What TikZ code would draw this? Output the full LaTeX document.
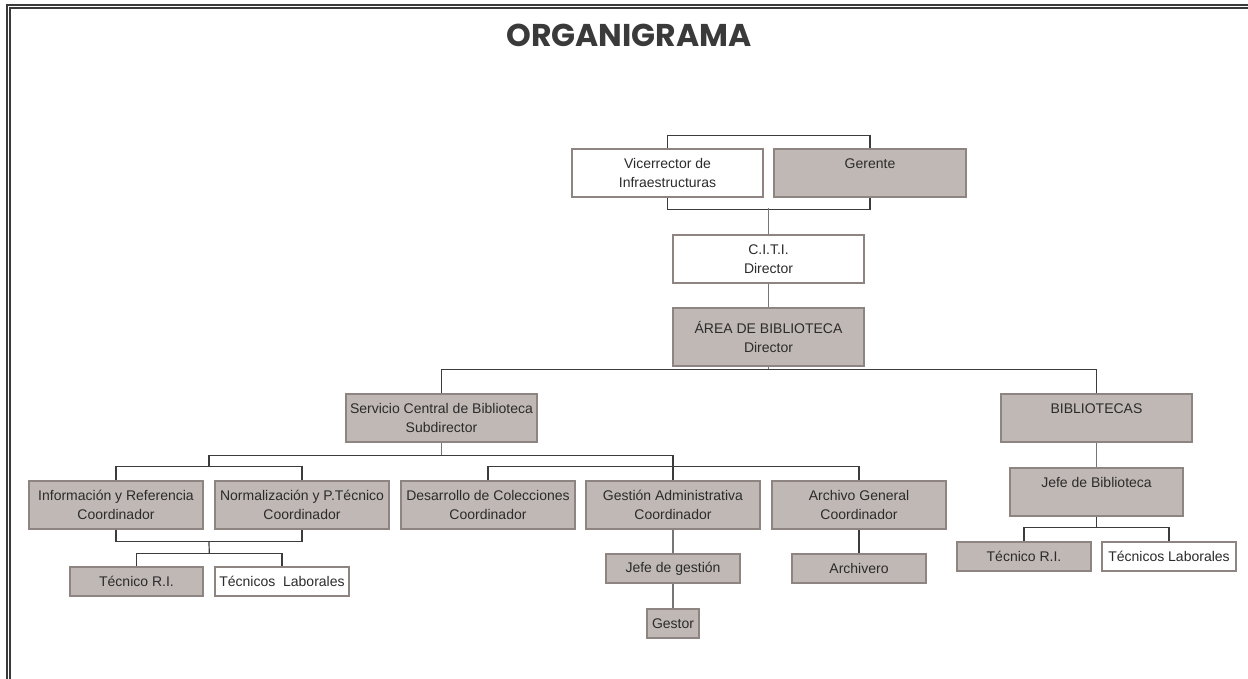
\documentclass[tikz,border=0pt]{standalone}
\usepackage{fontspec}
\setmainfont{Liberation Sans}
\newfontfamily\titlefont{Poppins}
\usetikzlibrary{calc}

\definecolor{boxfill}{HTML}{C0B8B5}
\definecolor{boxline}{HTML}{8E8583}
\definecolor{ink}{HTML}{2B2B2B}
\definecolor{wire}{HTML}{3C3C3C}
\definecolor{stem}{HTML}{767676}
\definecolor{framec}{HTML}{3A3A3A}

\newcommand\unitfont{\fontsize{14pt}{18.5pt}\selectfont}

\tikzset{
  unit/.style={draw=boxline, line width=1.2pt, fill=boxfill, inner sep=0pt,
    align=center, text=ink, font=\unitfont, minimum height=48pt},
  plainunit/.style={unit, fill=white},
  smallunit/.style={unit, minimum height=29pt},
  plainsmall/.style={smallunit, fill=white},
  bracket/.style={draw=wire, line width=1.2pt},
  stemline/.style={draw=stem, line width=1.2pt},
}

\begin{document}
\begin{tikzpicture}[x=1pt, y=-1pt]
\useasboundingbox (0,0) rectangle (1248,679);

% double frame along the top and left edges
\draw[framec, line width=2pt] (1248,5) -- (7,5) -- (7,679);
\draw[framec, line width=2pt] (1248,8) -- (10,8) -- (10,679);

\node[text=framec, font={\titlefont\bfseries\fontsize{31.5pt}{31.5pt}\selectfont}] (title) at (629,35) {ORGANIGRAMA};

% top level
\node[plainunit, minimum width=191pt] (vic) at (667.5,173) {Vicerrector de\\Infraestructuras};
\node[unit, minimum width=192pt] (ger) at (870,173) {Gerente\\~};
\node[plainunit, minimum width=191pt] (citi) at (768.5,259) {C.I.T.I.\\Director};
\node[unit, minimum width=191pt, minimum height=58pt] (area) at (768.5,337) {ÁREA DE BIBLIOTECA\\Director};

% second level
\node[unit, minimum width=191pt] (serv) at (441.5,418) {Servicio Central de Biblioteca\\Subdirector};
\node[unit, minimum width=191pt] (bib) at (1096.5,418) {BIBLIOTECAS\\~};
\node[unit, minimum width=173pt] (jb) at (1096.5,492) {Jefe de Biblioteca\\~};

% coordinators
\node[unit, minimum width=174pt] (info) at (116,505) {Información y Referencia\\Coordinador};
\node[unit, minimum width=174pt] (norm) at (302,505) {Normalización y P.Técnico\\Coordinador};
\node[unit, minimum width=174pt] (des) at (488,505) {Desarrollo de Colecciones\\Coordinador};
\node[unit, minimum width=174pt] (gest) at (673,505) {Gestión Administrativa\\Coordinador};
\node[unit, minimum width=174pt] (arch) at (859,505) {Archivo General\\Coordinador};

% staff
\node[smallunit, minimum width=133pt] (tri) at (136.5,581.5) {Técnico R.I.};
\node[plainsmall, minimum width=134pt] (tl) at (282,581.5) {Técnicos~~Laborales};
\node[smallunit, minimum width=134pt] (jg) at (673,568.5) {Jefe de gestión};
\node[smallunit, minimum width=52pt] (gestor) at (673,623.5) {Gestor};
\node[smallunit, minimum width=134pt] (archv) at (859,568.5) {Archivero};
\node[smallunit, minimum width=134pt] (tri2) at (1024,556.5) {Técnico R.I.};
\node[plainsmall, minimum width=134pt] (tl2) at (1169,556.5) {Técnicos Laborales};

% connectors: top pair to C.I.T.I.
\draw[bracket] (vic.north) -- ++(0,-13) -| (ger.north);
\draw[bracket] (vic.south) -- ++(0,12) -| (ger.south);
\coordinate (topjoin) at ($(citi.north)+(0,-26)$);
\draw[stemline] (topjoin) -- (citi.north);
\draw[stemline] (citi.south) -- (area.north);

% area to its two branches
\coordinate (bus) at ($(area.south)+(0,3)$);
\draw[stemline] (area.south) -- (bus);
\draw[bracket] (serv.north) |- (bus) -| (bib.north);

% central service to coordinators
\coordinate (servbus) at ($(serv.south)+(0,13)$);
\draw[stemline] (serv.south) -- (servbus);
\draw[bracket] (info.north) -- ++(0,-14) -| (norm.north);
\coordinate (leftjoin) at ($(info.north)!0.5!(norm.north)+(0,-14)$);
\draw[bracket] (leftjoin) -- (leftjoin |- servbus) -| (gest.north);
\draw[bracket] (des.north) -- ++(0,-14) -| (arch.north);

% below the first two coordinators
\draw[bracket] (info.south) -- ++(0,12) -| (norm.south);
\coordinate (lowjoin) at ($(info.south)!0.5!(norm.south)+(0,12)$);
\draw[bracket] (tri.north) -- ++(0,-13) -| (tl.north);
\coordinate (staffjoin) at ($(tri.north)!0.5!(tl.north)+(0,-13)$);
\draw[bracket] (lowjoin) -- (staffjoin);

% administration and archive chains
\draw[stemline] (gest.south) -- (jg.north);
\draw[stemline] (jg.south) -- (gestor.north);
\draw[bracket] (arch.south) -- (archv.north);

% libraries chain
\draw[stemline] (bib.south) -- (jb.north);
\draw[bracket] (tri2.north) -- ++(0,-14) -| (tl2.north);
\coordinate (libjoin) at ($(tri2.north)!0.5!(tl2.north)+(0,-14)$);
\draw[bracket] (jb.south) -- (jb.south |- libjoin);
\end{tikzpicture}
\end{document}
